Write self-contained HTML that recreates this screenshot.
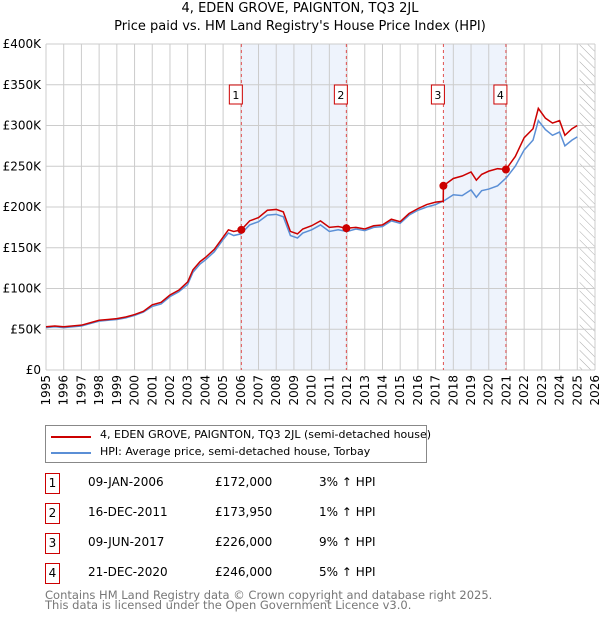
<!DOCTYPE html>
<html><head><meta charset="utf-8"><style>
body{margin:0;width:600px;height:620px;background:#fff;font-family:"DejaVu Sans","Liberation Sans",sans-serif;overflow:hidden;position:relative}
.t{position:absolute;font-size:12px;color:#000;white-space:nowrap}
.box{position:absolute;width:13px;height:19px;border:1px solid #c00;font-size:12px;text-align:center;line-height:19px}
</style></head><body>
<div class="t" style="left:0;width:600px;text-align:center;top:1px;font-size:13px">4, EDEN GROVE, PAIGNTON, TQ3 2JL</div>
<div class="t" style="left:0;width:600px;text-align:center;top:19px;font-size:13px">Price paid vs. HM Land Registry's House Price Index (HPI)</div>
<svg id="chart" width="600" height="420" style="position:absolute;left:0;top:0"></svg>
<div style="position:absolute;left:45px;top:425px;width:380px;height:36px;border:1px solid #888"></div>
<div style="position:absolute;left:51px;top:436px;width:40px;height:2px;background:#c00"></div>
<div class="t" style="left:100px;top:428px;font-size:11px">4, EDEN GROVE, PAIGNTON, TQ3 2JL (semi-detached house)</div>
<div style="position:absolute;left:51px;top:452px;width:40px;height:2px;background:#5b8fd6"></div>
<div class="t" style="left:100px;top:445px;font-size:11px">HPI: Average price, semi-detached house, Torbay</div>
<div id="rows"></div>
<div class="t" style="left:45px;top:590px;color:#777;font-size:11.5px;line-height:10px">Contains HM Land Registry data © Crown copyright and database right 2025.<br>This data is licensed under the Open Government Licence v3.0.</div>
<script>
const hpiYears=[1995,1995.5,1996,1997,1997.5,1998,1998.5,1999,1999.5,2000,2000.5,2001,2001.5,2002,2002.5,2003,2003.3,2003.7,2004,2004.5,2005,2005.3,2005.6,2006,2006.5,2007,2007.5,2008,2008.4,2008.8,2009.2,2009.5,2010,2010.5,2011,2011.5,2012,2012.5,2013,2013.5,2014,2014.5,2015,2015.5,2016,2016.5,2017,2017.5,2018,2018.5,2019,2019.3,2019.6,2020,2020.5,2021,2021.5,2022,2022.5,2022.8,2023.2,2023.6,2024,2024.3,2024.7,2025];
const hpiValues=[52,53,52,54,57,60,61,62,64,67,71,78,81,90,96,105,120,130,135,145,160,168,165,167,178,182,190,191,188,165,162,168,172,178,170,172,170,173,171,175,176,183,180,190,196,200,203,208,215,214,221,212,220,222,226,236,250,270,282,306,295,288,292,275,282,286];
const propYears=[1995,1995.5,1996,1997,1997.5,1998,1998.5,1999,1999.5,2000,2000.5,2001,2001.5,2002,2002.5,2003,2003.3,2003.7,2004,2004.5,2005,2005.3,2005.6,2006.03,2006.5,2007,2007.5,2008,2008.4,2008.8,2009.2,2009.5,2010,2010.5,2011,2011.5,2011.96,2012.5,2013,2013.5,2014,2014.5,2015,2015.5,2016,2016.5,2017,2017.43,2017.44,2018,2018.5,2019,2019.3,2019.6,2020,2020.5,2020.97,2021.5,2022,2022.5,2022.8,2023.2,2023.6,2024,2024.3,2024.7,2025];
const propValues=[53,54,53,55,58,61,62,63,65,68,72,80,83,92,98,108,123,133,138,148,163,172,170,172,183,187,196,197,194,170,167,173,177,183,175,176,174,175,173,177,178,185,182,192,198,203,206,207,226,235,238,243,233,240,244,247,246,262,285,296,321,309,303,306,288,296,300];
const saleLabels=["1","2","3","4"];
const saleYears=[2006.03,2011.96,2017.44,2020.97];
const saleValues=[172,173.95,226,246];
const saleDates=["09-JAN-2006","16-DEC-2011","09-JUN-2017","21-DEC-2020"];
const salePrices=["£172,000","£173,950","£226,000","£246,000"];
const saleDiffs=["3% ↑ HPI","1% ↑ HPI","9% ↑ HPI","5% ↑ HPI"];
const yTicks=[0,50,100,150,200,250,300,350,400];
const yTickLabels=["£0","£50K","£100K","£150K","£200K","£250K","£300K","£350K","£400K"];
const xTicks=[1995,1996,1997,1998,1999,2000,2001,2002,2003,2004,2005,2006,2007,2008,2009,2010,2011,2012,2013,2014,2015,2016,2017,2018,2019,2020,2021,2022,2023,2024,2025,2026];
const L=46,R=595,T=44,B=370;
const x=v=>L+(v-1995)/(2026-1995)*(R-L);
const y=v=>B-v/400*(B-T);
const svg=document.getElementById('chart');const NS='http://www.w3.org/2000/svg';
function mk(tag,at,txt){const e=document.createElementNS(NS,tag);for(const k in at)e.setAttribute(k,at[k]);if(txt!==undefined)e.textContent=txt;svg.appendChild(e);return e;}
// shaded regions
for(const [a,b] of [[0,1],[2,3]]){const e=mk('rect',{x:x(saleYears[a]),y:T,width:x(saleYears[b])-x(saleYears[a]),height:B-T,fill:'#eef3fc'});

}
// hatch
const defs=mk('defs',{});defs.innerHTML='<pattern id="h" width="6" height="6" patternUnits="userSpaceOnUse" patternTransform="rotate(-45)"><line x1="0" y1="0" x2="0" y2="6" stroke="#aaa" stroke-width="1"/></pattern>';
const hx=x(2025.13);
const hr=mk('rect',{x:hx,y:T,width:R-hx,height:B-T,fill:'url(#h)'});


xTicks.forEach(v=>{const g=mk('line',{x1:x(v),x2:x(v),y1:T,y2:B,stroke:'#ccc','stroke-width':1});


const t=mk('text',{x:0,y:0,transform:`translate(${x(v)+4},${B+5}) rotate(-90)`,'text-anchor':'end','font-size':12,'font-family':'DejaVu Sans,Liberation Sans,sans-serif'},String(v));

});
yTicks.forEach((v,i)=>{const g=mk('line',{x1:L,x2:R,y1:y(v),y2:y(v),stroke:'#ccc','stroke-width':1});


const t=mk('text',{x:L-5,y:y(v)+4,'text-anchor':'end','font-size':12,'font-family':'DejaVu Sans,Liberation Sans,sans-serif'},yTickLabels[i]);

});
saleYears.forEach((v,i)=>{const l=mk('line',{x1:x(v),x2:x(v),y1:T,y2:B,stroke:'#e05050','stroke-width':1,'stroke-dasharray':'3,3'});

});
const hp=mk('polyline',{points:hpiYears.map((v,i)=>x(v)+','+y(hpiValues[i])).join(' '),fill:'none',stroke:'#5b8fd6','stroke-width':1.5});


const pp=mk('polyline',{points:propYears.map((v,i)=>x(v)+','+y(propValues[i])).join(' '),fill:'none',stroke:'#cc0000','stroke-width':1.5});


saleYears.forEach((v,i)=>{const c=mk('circle',{cx:x(v),cy:y(saleValues[i]),r:4,fill:'#cc0000'});


const bx=x(v)-12;
const r=mk('rect',{x:bx,y:85,width:13,height:19,fill:'#fff',stroke:'#c00'});


const t=mk('text',{x:bx+6.5,y:99,'text-anchor':'middle','font-size':11,'font-family':'DejaVu Sans,sans-serif'},saleLabels[i]);

});
const rows=document.getElementById('rows');
saleLabels.forEach((s,i)=>{const top=475+i*30;
rows.insertAdjacentHTML('beforeend',`<div class="box" style="left:45px;top:${top-2}px">${s}</div>
<div class="t" style="left:88px;width:72px;text-align:center;top:${top}px">${saleDates[i]}</div>
<div class="t" style="left:215px;top:${top}px">${salePrices[i]}</div>
<div class="t" style="left:319px;top:${top}px">${saleDiffs[i]}</div>`);});
</script>
</body></html>
